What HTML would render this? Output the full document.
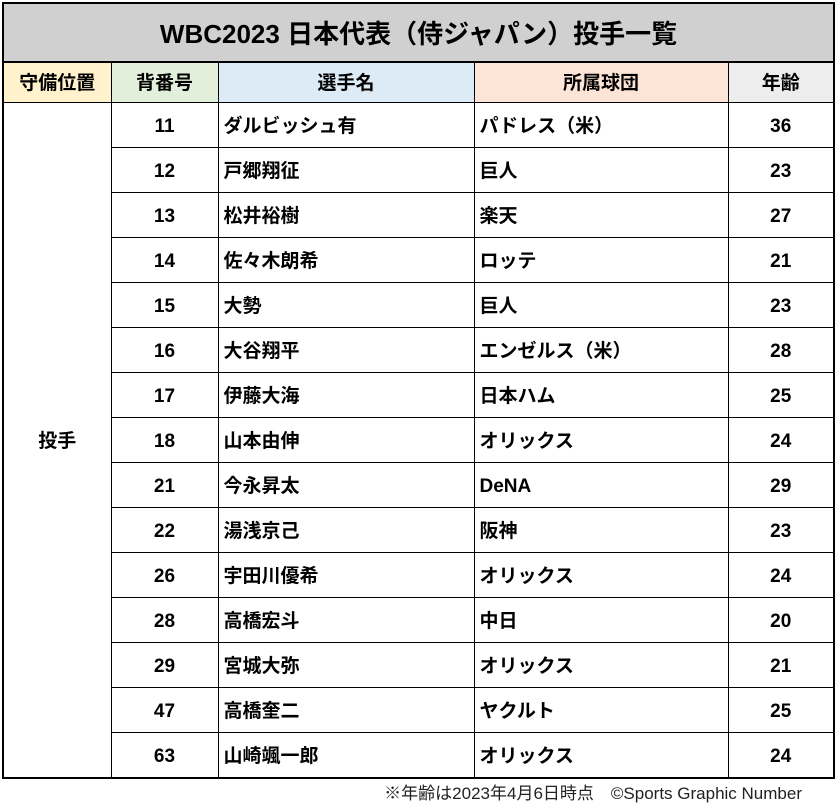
<!DOCTYPE html><html><head><meta charset="utf-8"><style>
body{margin:0;width:836px;height:807px;background:#fff;font-family:"Liberation Sans","Noto Sans CJK JP",sans-serif;position:relative;overflow:hidden}
.t{position:absolute;left:2px;top:2px;width:829px;height:59px;background:#d0d0d0;border:2px solid #000;border-bottom:1px solid #000;font-weight:bold;font-size:26px;text-align:center;line-height:60px}
table{position:absolute;left:2px;top:61px;border-collapse:collapse;font-weight:bold;font-size:19px}
td{border:1px solid #000;padding:3px 0 0 0;height:41px;vertical-align:middle;line-height:24px}
tr.h td{height:37px;padding-top:2px;text-align:center}
.c{text-align:center}.l{padding-left:5px}
.f{position:absolute;right:34px;top:779px;font-size:17px;color:#222}
</style></head><body>
<div class="t">WBC2023 日本代表（侍ジャパン）投手一覧</div>
<table style="border:2px solid #000">
<colgroup><col style="width:108px"><col style="width:107px"><col style="width:256px"><col style="width:254px"><col style="width:106px"></colgroup>
<tr class="h"><td style="background:#fff2cc">守備位置</td><td style="background:#e2efda">背番号</td><td style="background:#ddebf7">選手名</td><td style="background:#fce4d6">所属球団</td><td style="background:#ededed">年齢</td></tr>
<tr><td rowspan="15" class="c">投手</td><td class="c">11</td><td class="l">ダルビッシュ有</td><td class="l">パドレス（米）</td><td class="c">36</td></tr>
<tr><td class="c">12</td><td class="l">戸郷翔征</td><td class="l">巨人</td><td class="c">23</td></tr>
<tr><td class="c">13</td><td class="l">松井裕樹</td><td class="l">楽天</td><td class="c">27</td></tr>
<tr><td class="c">14</td><td class="l">佐々木朗希</td><td class="l">ロッテ</td><td class="c">21</td></tr>
<tr><td class="c">15</td><td class="l">大勢</td><td class="l">巨人</td><td class="c">23</td></tr>
<tr><td class="c">16</td><td class="l">大谷翔平</td><td class="l">エンゼルス（米）</td><td class="c">28</td></tr>
<tr><td class="c">17</td><td class="l">伊藤大海</td><td class="l">日本ハム</td><td class="c">25</td></tr>
<tr><td class="c">18</td><td class="l">山本由伸</td><td class="l">オリックス</td><td class="c">24</td></tr>
<tr><td class="c">21</td><td class="l">今永昇太</td><td class="l">DeNA</td><td class="c">29</td></tr>
<tr><td class="c">22</td><td class="l">湯浅京己</td><td class="l">阪神</td><td class="c">23</td></tr>
<tr><td class="c">26</td><td class="l">宇田川優希</td><td class="l">オリックス</td><td class="c">24</td></tr>
<tr><td class="c">28</td><td class="l">高橋宏斗</td><td class="l">中日</td><td class="c">20</td></tr>
<tr><td class="c">29</td><td class="l">宮城大弥</td><td class="l">オリックス</td><td class="c">21</td></tr>
<tr><td class="c">47</td><td class="l">高橋奎二</td><td class="l">ヤクルト</td><td class="c">25</td></tr>
<tr><td class="c">63</td><td class="l">山崎颯一郎</td><td class="l">オリックス</td><td class="c">24</td></tr>
</table>
<div class="f">※年齢は2023年4月6日時点　©Sports Graphic Number</div>
</body></html>
